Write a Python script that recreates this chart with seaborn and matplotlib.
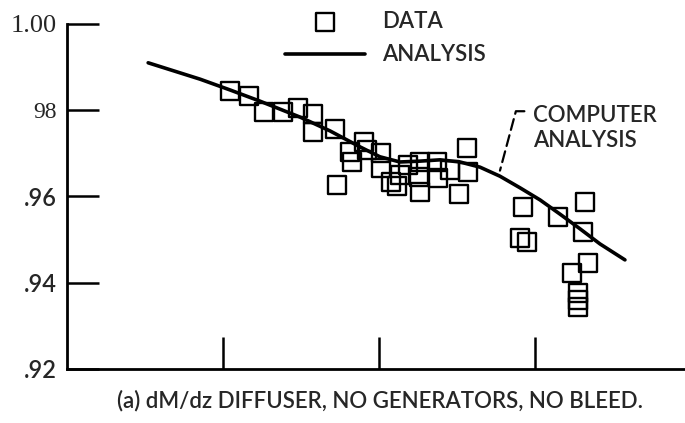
import matplotlib
matplotlib.use("Agg")
import matplotlib.pyplot as plt
import seaborn as sns
import pandas as pd

# data
data_x = [1.047, 1.169, 1.265, 1.387, 1.483, 1.579, 1.579, 1.720, 1.733, 1.816,
          1.829, 1.906, 1.925, 2.015, 2.015, 2.079, 2.117, 2.136, 2.188, 2.265,
          2.258, 2.265, 2.374, 2.381, 2.458, 2.515, 2.567, 2.572, 2.925, 2.906,
          2.951, 3.149, 3.322, 3.310, 3.342, 3.239, 3.278, 3.278, 3.278]
data_y = [0.9845, 0.9833, 0.9796, 0.9796, 0.9805, 0.9791, 0.9750, 0.9757, 0.9627, 0.9703,
          0.9680, 0.9726, 0.9708, 0.9701, 0.9666, 0.9634, 0.9624, 0.9650, 0.9673, 0.9680,
          0.9645, 0.9610, 0.9680, 0.9643, 0.9661, 0.9606, 0.9712, 0.9657, 0.9576, 0.9504,
          0.9494, 0.9552, 0.9587, 0.9518, 0.9446, 0.9423, 0.9376, 0.9360, 0.9344]

analysis_x = [0.522, 0.855, 1.047, 1.239, 1.496, 1.688, 1.880, 2.008, 2.136, 2.265,
              2.393, 2.521, 2.649, 2.777, 2.906, 3.034, 3.162, 3.290, 3.418, 3.578]
analysis_y = [0.9910, 0.9872, 0.9847, 0.9821, 0.9784, 0.9752, 0.9715, 0.9692, 0.9680, 0.9682,
              0.9685, 0.9680, 0.9668, 0.9647, 0.9620, 0.9592, 0.9559, 0.9525, 0.9490, 0.9453]

y_ticks = [0.92, 0.94, 0.96, 0.98, 1.00]
y_labels = [".92", ".94", ".96", "98", "1.00"]
x_ticks = [1, 2, 3]

caption = "(a) dM/dz DIFFUSER, NO GENERATORS, NO BLEED."

sns.set_style("ticks")
plt.rcParams["font.family"] = ["Lato", "DejaVu Sans"]
plt.rcParams["font.weight"] = "semibold"

pts = pd.DataFrame({"x": data_x, "y": data_y})
curve = pd.DataFrame({"x": analysis_x, "y": analysis_y})

fig = plt.figure(figsize=(6.85, 4.23), dpi=100)
ax = fig.add_axes([0.0974, 0.1277, 0.9026, 0.8156])

sns.scatterplot(data=pts, x="x", y="y", ax=ax, marker="s", s=170,
                facecolors="none", edgecolor="black", linewidth=1.7, label="DATA")
sns.lineplot(data=curve, x="x", y="y", ax=ax, color="black", lw=2.6,
             estimator=None, sort=False, label="ANALYSIS")

ax.set_xlim(0, 3.963)
ax.set_ylim(0.92, 1.00)
ax.set_xticks(x_ticks)
ax.set_xticklabels([])
ax.set_yticks(y_ticks)
ax.set_yticklabels(y_labels)
ax.set_xlabel("")
ax.set_ylabel("")
ax.tick_params(axis="both", direction="in", length=23, width=1.8, color="black")
ax.tick_params(axis="y", pad=7)
for lab in ax.get_yticklabels():
    if lab.get_text() == "1.00":
        lab.set_fontfamily("Liberation Serif")
        lab.set_fontweight("normal")
        lab.set_fontsize(19)
    elif lab.get_text() == "98":
        lab.set_fontfamily("Liberation Serif")
        lab.set_fontweight("normal")
        lab.set_fontsize(17)
    else:
        lab.set_fontsize(17)

sns.despine(ax=ax)
for side in ["left", "bottom"]:
    ax.spines[side].set_linewidth(2)
    ax.spines[side].set_color("black")

ax.legend(loc="upper left", bbox_to_anchor=(285 / 685, 1 - 11 / 423),
          bbox_transform=fig.transFigure, frameon=False, fontsize=16,
          handlelength=3.6, handletextpad=0.75, labelspacing=0.56,
          borderpad=0, borderaxespad=0)

ax.annotate("COMPUTER\nANALYSIS", xy=(2.777, 0.9660), xytext=(2.99, 0.9758),
            ha="left", va="center", fontsize=16, linespacing=1.25,
            arrowprops=dict(arrowstyle="-", color="black", lw=1.6, ls=(0, (5, 2.5)),
                            connectionstyle="angle,angleA=180,angleB=75,rad=0",
                            relpos=(0, 0.87), shrinkA=4, shrinkB=0))

fig.text(0.555, 0.054, caption, ha="center", va="center", fontsize=16)

fig.savefig("out.png", dpi=100)
